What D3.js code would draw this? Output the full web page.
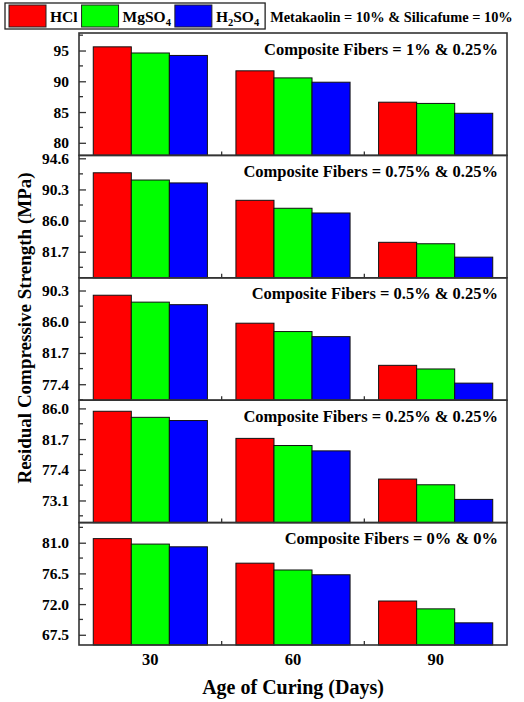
<!DOCTYPE html>
<html><head><meta charset="utf-8">
<script src="https://cdn.jsdelivr.net/npm/d3@7"></script>
<style>body{margin:0;background:#fff}svg{display:block}text{font-family:"Liberation Serif","Times New Roman",serif;font-weight:bold;fill:#000}</style>
</head><body>
<script>
const categories = ["30", "60", "90"];
const seriesNames = ["HCl", "MgSO4", "H2SO4"];
const seriesColors = ["#ff0000", "#00ff00", "#0000ff"];
const panelTitles = [
  "Composite Fibers = 1% & 0.25%",
  "Composite Fibers = 0.75% & 0.25%",
  "Composite Fibers = 0.5% & 0.25%",
  "Composite Fibers = 0.25% & 0.25%",
  "Composite Fibers = 0% & 0%"
];
// values per panel (top to bottom), per category
const hclValues   = [[95.6, 91.7, 86.6], [92.6, 88.8, 83.0], [89.65, 85.8, 80.0], [85.6, 81.8, 76.1], [81.6, 78.0, 72.45]];
const mgso4Values = [[94.6, 90.55, 86.4], [91.6, 87.7, 82.8], [88.7, 84.65, 79.5], [84.75, 80.8, 75.3], [80.8, 77.0, 71.3]];
const h2so4Values = [[94.2, 89.85, 84.8], [91.2, 87.05, 80.95], [88.35, 83.95, 77.55], [84.3, 80.05, 73.25], [80.4, 76.3, 69.25]];
const yDomains = [[77.95, 97.85], [78.1, 95.0], [75.2, 92.05], [70.0, 87.15], [66.0, 83.95]];
const yTicks = [[80, 85, 90, 95], [81.7, 86.0, 90.3, 94.6], [77.4, 81.7, 86.0, 90.3], [73.1, 77.4, 81.7, 86.0], [67.5, 72.0, 76.5, 81.0]];
const yTickLabels = [["80", "85", "90", "95"], ["81.7", "86.0", "90.3", "94.6"], ["77.4", "81.7", "86.0", "90.3"], ["73.1", "77.4", "81.7", "86.0"], ["67.5", "72.0", "76.5", "81.0"]];
const xTitle = "Age of Curing (Days)";
const yTitle = "Residual Compressive Strength (MPa)";
const noteText = "Metakaolin = 10% & Silicafume = 10%";

const W = 524, H = 702;
const pLeft = 79, pRight = 507, pTop = 33, pBottom = 645;
const nP = panelTitles.length;
const pH = (pBottom - pTop) / nP;
const svg = d3.select("body").append("svg").attr("width", W).attr("height", H);

const x = d3.scaleBand().domain(categories).range([pLeft, pRight]).paddingInner(0.2).paddingOuter(0.1);
const xs = d3.scaleBand().domain(seriesNames).range([0, x.bandwidth()]);
const allSeries = [hclValues, mgso4Values, h2so4Values];

for (let p = 0; p < nP; p++) {
  const y0 = pTop + p * pH, y1 = y0 + pH;
  const y = d3.scaleLinear().domain(yDomains[p]).range([y1, y0]);
  const g = svg.append("g");
  categories.forEach((c, ci) => {
    seriesNames.forEach((s, si) => {
      const v = allSeries[si][p][ci];
      g.append("rect")
        .attr("x", x(c) + xs(s)).attr("width", xs.bandwidth())
        .attr("y", y(v)).attr("height", y1 - y(v))
        .attr("fill", seriesColors[si]).attr("stroke", "#111").attr("stroke-width", 1);
    });
  });
  g.append("rect").attr("x", pLeft).attr("y", y0).attr("width", pRight - pLeft).attr("height", pH)
    .attr("fill", "none").attr("stroke", "#333").attr("stroke-width", 1.6);
  const maj = yTicks[p];
  const step = maj[1] - maj[0];
  const minors = [];
  for (let k = -2; k < maj.length + 1; k++) {
    const m = maj[0] + (k + 0.5) * step;
    if (m > yDomains[p][0] && m < yDomains[p][1]) minors.push(m);
  }
  const axis = d3.axisLeft(y).tickValues(maj).tickSize(-7).tickPadding(10).tickFormat((d, i) => yTickLabels[p][i]);
  const ag = g.append("g").attr("transform", `translate(${pLeft},0)`).call(axis);
  ag.select(".domain").remove();
  ag.selectAll(".tick line").attr("stroke", "#333").attr("stroke-width", 1.3);
  ag.selectAll(".tick text").attr("font-size", 15.5).attr("font-family", "Liberation Serif").attr("font-weight", "bold").attr("fill", "#000");
  g.selectAll(".minor").data(minors).enter().append("line")
    .attr("x1", pLeft).attr("x2", pLeft + 4).attr("y1", d => y(d)).attr("y2", d => y(d))
    .attr("stroke", "#333").attr("stroke-width", 1.3);
  categories.slice(1).forEach(c => {
    const bx = x(c) - x.step() * x.paddingInner() / 2;
    g.append("line").attr("x1", bx).attr("x2", bx).attr("y1", y1).attr("y2", y1 - 4)
      .attr("stroke", "#333").attr("stroke-width", 1.3);
  });
  g.append("text").attr("x", 498).attr("y", y0 + 21.5).attr("text-anchor", "end")
    .attr("font-size", 16.5).text(panelTitles[p]);
}

categories.forEach(c => {
  svg.append("text").attr("x", x(c) + x.bandwidth() / 2).attr("y", 665).attr("text-anchor", "middle")
    .attr("font-size", 16.5).text(c);
});
svg.append("text").attr("x", (pLeft + pRight) / 2).attr("y", 694).attr("text-anchor", "middle")
  .attr("font-size", 20).text(xTitle);
svg.append("text").attr("transform", `translate(31,328) rotate(-90)`).attr("text-anchor", "middle")
  .attr("font-size", 19).text(yTitle);

// legend laid out sequentially
const lg = svg.append("g");
const box = lg.append("rect").attr("x", 5).attr("y", 3).attr("height", 26)
  .attr("fill", "#fff").attr("stroke", "#222").attr("stroke-width", 1.3);
const labelParts = [[["HCl", false]], [["MgSO", false], ["4", true]], [["H", false], ["2", true], ["SO", false], ["4", true]]];
let cx = 9;
seriesNames.forEach((s, i) => {
  lg.append("rect").attr("x", cx).attr("y", 5).attr("width", 37).attr("height", 22)
    .attr("fill", seriesColors[i]).attr("stroke", "#222").attr("stroke-width", 1);
  const t = lg.append("text").attr("x", cx + 41).attr("y", 22).attr("font-size", 15.5);
  labelParts[i].forEach(([txt, sub], k) => {
    const ts = t.append("tspan").text(txt);
    if (sub) ts.attr("font-size", 10.5).attr("dy", 4);
    else if (k > 0) ts.attr("dy", -4);
  });
  cx = cx + 41 + t.node().getComputedTextLength() + 4;
});
box.attr("width", cx + 2 - 5);
svg.append("text").attr("x", cx + 7).attr("y", 22).attr("font-size", 14.4).text(noteText);
</script>
</body></html>
